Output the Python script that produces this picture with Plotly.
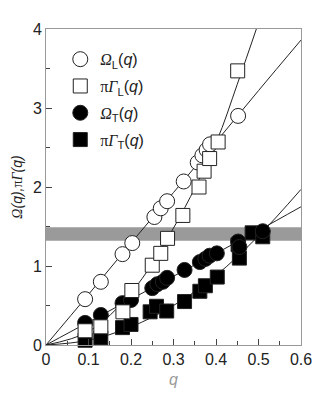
import plotly.graph_objects as go

q_omega_l = [0.092, 0.129, 0.180, 0.203, 0.255, 0.270, 0.285, 0.324, 0.357, 0.368, 0.378, 0.386, 0.452]
v_omega_l = [0.58, 0.80, 1.15, 1.29, 1.62, 1.73, 1.82, 2.07, 2.31, 2.40, 2.47, 2.54, 2.90]

q_gamma_l = [0.092, 0.129, 0.181, 0.202, 0.250, 0.270, 0.286, 0.322, 0.360, 0.372, 0.385, 0.405, 0.451]
v_gamma_l = [0.18, 0.23, 0.42, 0.69, 1.01, 1.16, 1.35, 1.64, 2.00, 2.20, 2.36, 2.57, 3.47]

q_omega_t = [0.092, 0.129, 0.180, 0.200, 0.250, 0.262, 0.275, 0.285, 0.326, 0.362, 0.375,
             0.385, 0.402, 0.452, 0.455, 0.510]
v_omega_t = [0.28, 0.38, 0.53, 0.57, 0.72, 0.77, 0.80, 0.85, 0.95, 1.05, 1.09,
             1.13, 1.16, 1.31, 1.24, 1.44]

q_gamma_t = [0.092, 0.129, 0.180, 0.200, 0.245, 0.260, 0.284, 0.326, 0.362, 0.375, 0.403,
             0.455, 0.452, 0.485, 0.510]
v_gamma_t = [0.06, 0.09, 0.22, 0.26, 0.42, 0.49, 0.43, 0.55, 0.68, 0.75, 0.86,
             1.10, 1.27, 1.42, 1.37]

# fitted curves
fit_q = [0, 0.1, 0.2, 0.3, 0.4, 0.5, 0.6]
fit_omega_l = [0, 0.64, 1.29, 1.93, 2.57, 3.22, 3.86]
fit_q_gl = [0, 0.1, 0.2, 0.3, 0.4, 0.45, 0.5]
fit_gamma_l = [0, 0.17, 0.66, 1.48, 2.56, 3.30, 4.08]
fit_omega_t = [0, 0.29, 0.58, 0.87, 1.16, 1.45, 1.75]
fit_gamma_t = [0, 0.06, 0.23, 0.50, 0.88, 1.38, 1.97]

# grey band
band = [1.32, 1.49]

G = '<span style="font-family:Liberation Serif"><i>%s</i></span>'
PI = '<span style="font-family:Liberation Serif">π</span>'
names = [
    G % 'Ω' + '<sub>L</sub>(<i>q</i>)',
    PI + G % 'Γ' + '<sub>L</sub>(<i>q</i>)',
    G % 'Ω' + '<sub>T</sub>(<i>q</i>)',
    PI + G % 'Γ' + '<sub>T</sub>(<i>q</i>)',
]

fig = go.Figure()

line = dict(color='#222', width=1)
for xs, ys in [(fit_q, fit_omega_l), (fit_q_gl, fit_gamma_l),
               (fit_q, fit_omega_t), (fit_q, fit_gamma_t)]:
    fig.add_trace(go.Scatter(x=xs, y=ys, mode='lines', line=dict(line, shape='spline'),
                             showlegend=False, hoverinfo='skip'))

# draw order: filled squares, filled circles, open circles, open squares
series = [
    (q_gamma_t, v_gamma_t, 'square', 'black', 3),
    (q_omega_t, v_omega_t, 'circle', 'black', 2),
    (q_omega_l, v_omega_l, 'circle', 'white', 0),
    (q_gamma_l, v_gamma_l, 'square', 'white', 1),
]
for xs, ys, sym, col, idx in series:
    fig.add_trace(go.Scatter(
        x=xs, y=ys, mode='markers', name=names[idx],
        legendrank=idx + 1, legendgroup='g%d' % idx,
        marker=dict(symbol=sym, size=15 if sym == 'circle' else 14, color=col,
                    line=dict(color='#222', width=1)),
        cliponaxis=False,
    ))

fig.add_shape(type='rect', xref='x', yref='y', x0=0, x1=0.6, y0=band[0], y1=band[1],
              fillcolor='#9a9a9a', line=dict(width=0), layer='below')

# page body has an 8px margin, so the figure is a bit smaller than the window
fig.update_layout(
    width=319, height=392,
    margin=dict(l=38, r=26, t=21, b=55),
    plot_bgcolor='white', paper_bgcolor='white',
    font=dict(family='Liberation Sans', size=14, color='#222'),
    showlegend=True,
    legend=dict(x=0.056, y=0.958, xanchor='left', yanchor='top', bgcolor='rgba(0,0,0,0)',
                font=dict(size=16), tracegroupgap=3, traceorder='grouped'),
)

fig.update_xaxes(
    range=[0, 0.6], tickvals=[0, 0.1, 0.2, 0.3, 0.4, 0.5, 0.6],
    ticktext=['0', '0.1', '0.2', '0.3', '0.4', '0.5', '0.6'],
    ticks='inside', ticklen=6, tickcolor='#444', automargin=False,
    minor=dict(dtick=0.05, ticks='inside', ticklen=4, tickcolor='#444'),
    showline=True, linecolor='#999', linewidth=1, mirror=True, showgrid=False, zeroline=False,
    tickfont=dict(family='Liberation Sans', size=16, color='#222'),
    title=dict(text='<i>q</i>', font=dict(color='#999', size=16), standoff=6),
)
fig.update_yaxes(
    range=[0, 4], tickvals=[0, 1, 2, 3, 4],
    ticks='inside', ticklen=6, tickcolor='#444', automargin=False,
    minor=dict(dtick=0.5, ticks='inside', ticklen=4, tickcolor='#444'),
    showline=True, linecolor='#999', linewidth=1, mirror=True, showgrid=False, zeroline=False,
    tickfont=dict(family='Liberation Sans', size=16, color='#222'),
    title=dict(text='<i>' + G % 'Ω' + '(q),</i>' + PI + '<i>' + G % 'Γ' + '(q)</i>',
               font=dict(size=14), standoff=6),
)

fig.write_html("out.html")
